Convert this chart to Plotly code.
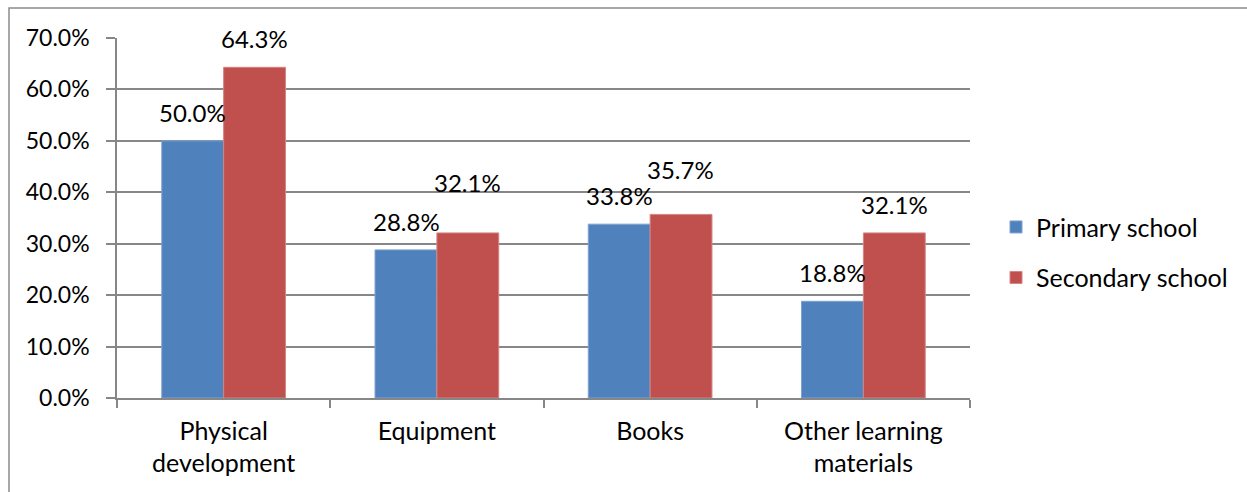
import plotly.graph_objects as go

categories = ["Physical<br>development", "Equipment", "Books", "Other learning<br>materials"]
primary = [0.500, 0.288, 0.338, 0.188]
secondary = [0.643, 0.321, 0.357, 0.321]
series_names = ["Primary school", "Secondary school"]
colors = ["#4F81BD", "#C0504D"]
edge_colors = ["#7FA2D0", "#D58482"]

# extra lift (px) for labels nudged clear of a neighbouring label
label_lift = [[0, 0, 0, 0], [0, 22, 16, 0]]

FONT = "Lato"
GRID = "#878787"

fig = go.Figure()
for i, (name, vals) in enumerate(zip(series_names, [primary, secondary])):
    fig.add_trace(go.Bar(
        x=categories, y=vals, name=name,
        marker=dict(color=colors[i], line=dict(color=edge_colors[i], width=1)),
        legendgroup=f"g{i}",
    ))

# value labels above each bar, centred on its half of the category group
bar_offset = 30.75
for i, vals in enumerate([primary, secondary]):
    shift = -bar_offset if i == 0 else bar_offset
    for j, (cat, v) in enumerate(zip(categories, vals)):
        fig.add_annotation(
            x=cat, y=v, xref="x", yref="y",
            text=f"{v * 100:.1f}%", showarrow=False,
            xanchor="center", yanchor="bottom",
            xshift=shift, yshift=12 + label_lift[i][j],
            font=dict(family=FONT, size=24, color="#000000"),
        )

# outer chart border
fig.add_shape(type="rect", xref="paper", yref="paper",
              x0=(9 - 117) / 853, x1=2.0, y0=-2.0, y1=(398 - 8) / 360,
              line=dict(color="#8C8C8C", width=1.5), fillcolor="rgba(0,0,0,0)",
              layer="below")

fig.update_layout(
    width=1247, height=492,
    margin=dict(l=117, r=277, t=38, b=94),
    paper_bgcolor="white", plot_bgcolor="white",
    barmode="group", bargap=0.42, bargroupgap=0,
    font=dict(family=FONT, size=23, color="#000000"),
    showlegend=True,
    legend=dict(x=(996 - 117) / 853, y=0.405, xanchor="left", yanchor="middle",
                font=dict(family=FONT, size=25, color="#000000"),
                tracegroupgap=15, bgcolor="rgba(0,0,0,0)"),
    xaxis=dict(
        type="category", tickson="boundaries", ticks="outside", ticklen=8,
        tickcolor=GRID, tickwidth=1.5, showline=True, linecolor=GRID, linewidth=1.5,
        showgrid=False, tickfont=dict(family=FONT, size=25, color="#000000"),
        ticklabelstandoff=10,
    ),
    yaxis=dict(
        range=[0, 0.7], dtick=0.1, tickformat=".1%", ticks="outside", ticklen=9,
        tickcolor=GRID, tickwidth=1.5, showline=True, linecolor=GRID, linewidth=1.5,
        showgrid=True, gridcolor=GRID, gridwidth=1.5, zeroline=False,
        tickfont=dict(family=FONT, size=23, color="#000000"),
        ticklabelstandoff=12,
    ),
)

fig.write_html("out.html")
